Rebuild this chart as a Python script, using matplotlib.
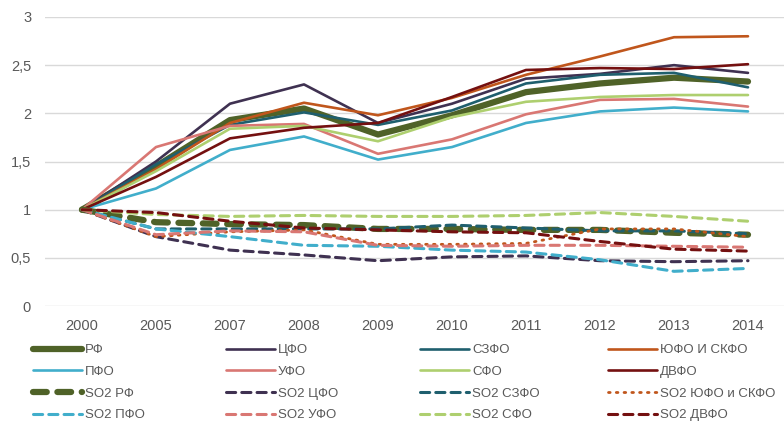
import numpy as np
import matplotlib
matplotlib.use("Agg")
import matplotlib.pyplot as plt

plt.rcParams['font.family'] = ['Liberation Sans', 'DejaVu Sans']

years = ['2000', '2005', '2007', '2008', '2009', '2010', '2011', '2012', '2013', '2014']

# индексы (2000 = 1)
rf    = [1, 1.45, 1.93, 2.05, 1.78, 1.98, 2.22, 2.31, 2.37, 2.33]
cfo   = [1, 1.50, 2.10, 2.30, 1.90, 2.10, 2.36, 2.41, 2.50, 2.42]
szfo  = [1, 1.47, 1.88, 2.01, 1.88, 2.03, 2.31, 2.40, 2.42, 2.27]
yufo  = [1, 1.42, 1.90, 2.11, 1.98, 2.16, 2.40, 2.59, 2.79, 2.80]
pfo   = [1, 1.22, 1.62, 1.76, 1.52, 1.65, 1.90, 2.02, 2.06, 2.02]
ufo   = [1, 1.65, 1.87, 1.89, 1.58, 1.73, 1.99, 2.14, 2.15, 2.07]
sfo   = [1, 1.40, 1.84, 1.87, 1.71, 1.96, 2.12, 2.17, 2.19, 2.19]
dvfo  = [1, 1.34, 1.74, 1.85, 1.90, 2.17, 2.45, 2.47, 2.46, 2.51]

so2_rf   = [1, 0.87, 0.85, 0.84, 0.80, 0.80, 0.79, 0.79, 0.76, 0.74]
so2_cfo  = [1, 0.72, 0.58, 0.53, 0.47, 0.51, 0.52, 0.47, 0.46, 0.47]
so2_szfo = [1, 0.80, 0.80, 0.80, 0.80, 0.84, 0.81, 0.78, 0.78, 0.75]
so2_yufo = [1, 0.72, 0.77, 0.79, 0.64, 0.64, 0.65, 0.80, 0.80, 0.72]
so2_pfo  = [1, 0.80, 0.72, 0.63, 0.62, 0.58, 0.56, 0.48, 0.36, 0.39]
so2_ufo  = [1, 0.74, 0.78, 0.77, 0.63, 0.62, 0.63, 0.63, 0.62, 0.61]
so2_sfo  = [1, 0.95, 0.93, 0.94, 0.93, 0.93, 0.94, 0.97, 0.93, 0.88]
so2_dvfo = [1, 0.97, 0.88, 0.81, 0.79, 0.77, 0.76, 0.67, 0.59, 0.57]

c_rf, c_cfo, c_szfo, c_yufo = '#4F6228', '#3F3151', '#1F5F6E', '#C0561C'
c_pfo, c_ufo, c_sfo, c_dvfo = '#41AECB', '#D97773', '#AECF6F', '#741010'

fig = plt.figure(figsize=(7.84, 4.22), dpi=100)
ax = fig.add_axes([45/784, 1-306/422, 740/784, 289/422])
x = np.arange(len(years))

series = [
    (rf, 'РФ', c_rf, 4.5, '-'),
    (cfo, 'ЦФО', c_cfo, 1.9, '-'),
    (szfo, 'СЗФО', c_szfo, 1.9, '-'),
    (yufo, 'ЮФО И СКФО', c_yufo, 1.9, '-'),
    (pfo, 'ПФО', c_pfo, 1.9, '-'),
    (ufo, 'УФО', c_ufo, 1.9, '-'),
    (sfo, 'СФО', c_sfo, 1.9, '-'),
    (dvfo, 'ДВФО', c_dvfo, 1.9, '-'),
    (so2_rf, 'SO2 РФ', c_rf, 4.5, (0, (2.2, 1.7))),
    (so2_cfo, 'SO2 ЦФО', c_cfo, 2.2, (0, (3, 2))),
    (so2_szfo, 'SO2 СЗФО', c_szfo, 2.2, (0, (3, 2))),
    (so2_yufo, 'SO2 ЮФО и СКФО', c_yufo, 2.0, (0, (0.6, 2.2))),
    (so2_pfo, 'SO2 ПФО', c_pfo, 2.2, (0, (3, 2))),
    (so2_ufo, 'SO2 УФО', c_ufo, 2.2, (0, (3, 2))),
    (so2_sfo, 'SO2 СФО', c_sfo, 2.2, (0, (3, 2))),
    (so2_dvfo, 'SO2 ДВФО', c_dvfo, 2.2, (0, (3, 2))),
]

handles = []
for vals, lab, col, lw, ls in series:
    h, = ax.plot(x, vals, color=col, lw=lw, linestyle=ls, label=lab,
                 solid_capstyle='round', dash_capstyle='round')
    handles.append(h)

ax.set_xlim(-0.5, 9.5)
ax.set_ylim(0, 3)
ax.set_xticks(x)
ax.set_xticklabels(years)
ax.set_yticks([0, 0.5, 1, 1.5, 2, 2.5, 3])
ax.set_yticklabels(['0', '0,5', '1', '1,5', '2', '2,5', '3'])
ax.grid(axis='y', color='#D9D9D9', lw=1)
ax.set_axisbelow(True)
for s in ax.spines.values():
    s.set_visible(False)
ax.tick_params(length=0, colors='#595959', labelsize=10.5)
ax.tick_params(axis='x', pad=9)
ax.tick_params(axis='y', pad=10)

# легенда: 4 колонки по 4 строки
col_x = [33, 226, 420, 608]
for c in range(4):
    hh = [handles[c + 4*r] for r in range(4)]
    fig.legend(handles=hh, labels=[h.get_label() for h in hh],
               loc='upper left', bbox_to_anchor=(col_x[c]/784, 1-344/422),
               frameon=False, handlelength=3.7, fontsize=9.5,
               handletextpad=0.25, labelspacing=0.72, borderpad=0,
               borderaxespad=0, labelcolor='#595959')

fig.savefig('out.png', dpi=100)
